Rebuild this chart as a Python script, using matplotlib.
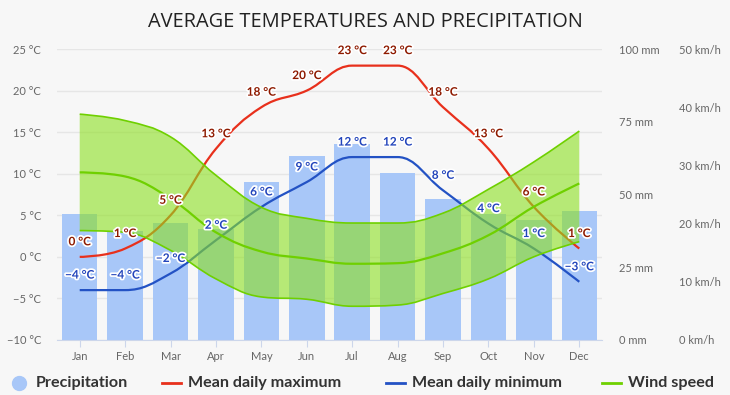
import matplotlib
matplotlib.use("Agg")
import matplotlib.pyplot as plt
import matplotlib.patheffects as pe
from matplotlib.path import Path
from matplotlib.patches import PathPatch
from matplotlib.lines import Line2D
import matplotlib.transforms as mtransforms

# --- Data -------------------------------------------------------------------

months = ["Jan", "Feb", "Mar", "Apr", "May", "Jun",
          "Jul", "Aug", "Sep", "Oct", "Nov", "Dec"]
precip_mm = [43.3, 37.5, 40.3, 38.0, 54.4, 63.2, 67.4, 57.4, 48.5, 43.3, 41.2, 44.3]
temp_max = [0, 1, 5, 13, 18, 20, 23, 23, 18, 13, 6, 1]
temp_min = [-4, -4, -2, 2, 6, 9, 12, 12, 8, 4, 1, -3]
wind_mean = [28.8, 28.1, 24.3, 18.5, 15.2, 14.0, 13.1, 13.2, 14.9, 18.0, 22.9, 26.9]
wind_high = [38.8, 37.7, 34.9, 28.3, 22.8, 20.9, 20.1, 20.1, 21.8, 25.9, 30.6, 35.9]
wind_low = [18.8, 18.5, 15.4, 10.5, 7.4, 7.0, 5.8, 6.0, 8.0, 10.5, 14.3, 16.9]

temp_ticks = [-10, -5, 0, 5, 10, 15, 20, 25]
prec_ticks = [0, 25, 50, 75, 100]
wind_ticks = [0, 10, 20, 30, 40, 50]

TEMP_LIM = (-10, 25)
PREC_LIM = (0, 100)
WIND_LIM = (0, 50)

BG = "#f7f7f7"
C_BAR = "#a8c7f8"
C_MAX = "#e8301c"
C_MIN = "#2352c4"
C_WIND = "#6fd000"
C_BAND = "#8ce020"
C_LBL_MAX = "#8e1a00"
C_LBL_MIN = "#2244bb"
FONT = "Lato"


# --- Highcharts-like spline -------------------------------------------------

def spline_verts(xs, ys, smoothing=1.5):
    n = len(xs)
    denom = smoothing + 1
    left = [None] * n
    right = [None] * n
    for i in range(1, n - 1):
        px, py = xs[i], ys[i]
        lx, ly = xs[i - 1], ys[i - 1]
        nx, ny = xs[i + 1], ys[i + 1]
        lcx = (smoothing * px + lx) / denom
        lcy = (smoothing * py + ly) / denom
        rcx = (smoothing * px + nx) / denom
        rcy = (smoothing * py + ny) / denom
        corr = (rcy - lcy) * (rcx - px) / (rcx - lcx) + py - rcy
        lcy += corr
        rcy += corr
        if lcy > ly and lcy > py:
            lcy = max(ly, py); rcy = 2 * py - lcy
        elif lcy < ly and lcy < py:
            lcy = min(ly, py); rcy = 2 * py - lcy
        if rcy > ny and rcy > py:
            rcy = max(ny, py); lcy = 2 * py - rcy
        elif rcy < ny and rcy < py:
            rcy = min(ny, py); lcy = 2 * py - rcy
        left[i] = (lcx, lcy)
        right[i] = (rcx, rcy)
    verts = [(xs[0], ys[0])]
    for i in range(1, n):
        verts.append(right[i - 1] or (xs[i - 1], ys[i - 1]))
        verts.append(left[i] or (xs[i], ys[i]))
        verts.append((xs[i], ys[i]))
    return verts


def curve_path(xs, ys):
    v = spline_verts(xs, ys)
    return Path(v, [Path.MOVETO] + [Path.CURVE4] * (len(v) - 1))


def band_path(xs, hi, lo):
    up = spline_verts(xs, hi)
    dn = spline_verts(xs, lo)[::-1]
    verts = up + [dn[0]] + dn[1:] + [up[0]]
    codes = ([Path.MOVETO] + [Path.CURVE4] * (len(up) - 1) + [Path.LINETO]
             + [Path.CURVE4] * (len(dn) - 1) + [Path.CLOSEPOLY])
    return Path(verts, codes)


def to_temp(ax, lim):
    # map a secondary-axis scale onto the temperature axis
    span_t = TEMP_LIM[1] - TEMP_LIM[0]
    k = span_t / (lim[1] - lim[0])
    return mtransforms.Affine2D().translate(0, -lim[0]).scale(1, k).translate(0, TEMP_LIM[0]) + ax.transData


# --- Plot -------------------------------------------------------------------

fig = plt.figure(figsize=(7.3, 3.95), dpi=100, facecolor=BG)
ax = fig.add_axes([57 / 730, 1 - 340 / 395, 545 / 730, 291 / 395])
ax.set_facecolor(BG)
x = list(range(len(months)))

ax.set_xlim(-0.5, len(months) - 0.5)
ax.set_ylim(*TEMP_LIM)
ax.set_yticks(temp_ticks)
ax.set_yticklabels([f"{t} °C".replace("-", "−") for t in temp_ticks])
ax.grid(axis="y", color="#e6e6e6", linewidth=1, zorder=0)
ax.set_axisbelow(True)
for s in ["top", "left", "right"]:
    ax.spines[s].set_visible(False)
ax.spines["bottom"].set_color("#ccd6eb")
ax.tick_params(axis="y", length=0, pad=11.5, labelsize=8, labelcolor="#666666")
ax.tick_params(axis="x", length=5, color="#ccd6eb", pad=3, labelsize=8, labelcolor="#666666")
ax.set_xticks(x)
ax.set_xticklabels(months)

# precipitation bars
ax.bar(x, precip_mm, width=0.78, color=C_BAR, transform=to_temp(ax, PREC_LIM), zorder=1)

# temperature lines
ax.add_patch(PathPatch(curve_path(x, temp_max), fill=False, edgecolor=C_MAX, lw=1.6, zorder=2))
ax.add_patch(PathPatch(curve_path(x, temp_min), fill=False, edgecolor=C_MIN, lw=1.6, zorder=2))

# wind band + lines
wtf = to_temp(ax, WIND_LIM)
ax.add_patch(PathPatch(band_path(x, wind_high, wind_low), facecolor=C_BAND, alpha=0.6,
                       edgecolor="none", transform=wtf, zorder=3))
for series, lw in [(wind_high, 1.2), (wind_low, 1.2), (wind_mean, 1.6)]:
    ax.add_patch(PathPatch(curve_path(x, series), fill=False, edgecolor=C_WIND, lw=lw,
                           transform=wtf, zorder=3.5))

# data labels
halo = [pe.withStroke(linewidth=2.5, foreground="white")]
for series, col in [(temp_max, C_LBL_MAX), (temp_min, C_LBL_MIN)]:
    for xi, v in zip(x, series):
        ax.annotate(f"{v} °C".replace("-", "−"), (xi, v), xytext=(0, 10.8),
                    textcoords="offset points", ha="center", va="center",
                    fontsize=8.5, fontweight="bold", color=col, family=FONT,
                    path_effects=halo, zorder=6)

for lbl in ax.get_xticklabels() + ax.get_yticklabels():
    lbl.set_family(FONT)

# right-hand axes (labels only)
ax_p = ax.twinx()
ax_p.set_ylim(*PREC_LIM)
ax_p.set_yticks(prec_ticks)
ax_p.set_yticklabels([f"{p} mm" for p in prec_ticks], family=FONT)
ax_p.tick_params(axis="y", length=0, pad=12.5, labelsize=8, labelcolor="#666666")

ax_w = ax.twinx()
ax_w.set_ylim(*WIND_LIM)
ax_w.set_yticks(wind_ticks)
ax_w.set_yticklabels([f"{w} km/h" for w in wind_ticks], family=FONT)
ax_w.tick_params(axis="y", length=0, pad=55.5, labelsize=8, labelcolor="#666666")
for a in (ax_p, ax_w):
    for s in a.spines.values():
        s.set_visible(False)

# title
fig.text(365 / 730, 1 - 22 / 395, "AVERAGE TEMPERATURES AND PRECIPITATION",
         ha="center", va="center", fontsize=14.4, family="Open Sans", color="#222222")

# legend
ly = 1 - 383 / 395
fig.add_artist(Line2D([18.6 / 730], [ly], marker="o", markersize=10, color=C_BAR,
                      linestyle="none", transform=fig.transFigure))
legend_items = [
    (None, 36, "Precipitation"),
    (C_MAX, 188, "Mean daily maximum"),
    (C_MIN, 412, "Mean daily minimum"),
    (C_WIND, 628, "Wind speed"),
]
for col, tx, name in legend_items:
    if col is not None:
        fig.add_artist(Line2D([(tx - 26) / 730, (tx - 7) / 730], [ly, ly], color=col,
                              lw=2, transform=fig.transFigure))
    fig.text(tx / 730, ly, name, ha="left", va="center", fontsize=11.6,
             fontweight="bold", family=FONT, color="#333333")

fig.savefig("out.png", dpi=100, facecolor=BG)
